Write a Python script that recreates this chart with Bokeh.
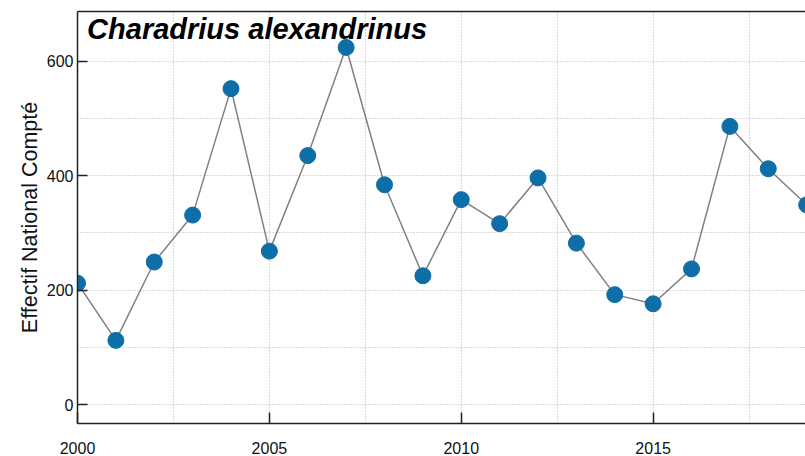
from bokeh.plotting import figure
from bokeh.models import Range1d, FixedTicker, LinearAxis, Label, Grid
from bokeh.embed import file_html
from bokeh.resources import INLINE

years = list(range(2000, 2020))
counts = [212, 112, 249, 331, 552, 268, 435, 624, 384, 225,
          358, 316, 396, 282, 192, 176, 237, 486, 412, 349]
species = "Charadrius alexandrinus"
y_label = "Effectif National Compté"
x_ticks = [2000, 2005, 2010, 2015]
x_minor = [2002.5, 2007.5, 2012.5, 2017.5]
y_ticks = [0, 200, 400, 600]
y_minor = [100, 300, 500]

FONT = "Liberation Sans"
AXIS_COLOR = "#222222"
GRID_COLOR = "#b5b5b5"

p = figure(width=805, height=456, output_backend="svg", toolbar_location=None,
           x_range=Range1d(2000, 2018.97), y_range=Range1d(-33.2, 686.8),
           x_axis_type=None, y_axis_type=None,
           min_border_left=77, min_border_right=0, min_border_top=11, min_border_bottom=33)
p.outline_line_color = None
p.background_fill_color = "white"
p.border_fill_color = "white"

xaxis = LinearAxis(ticker=FixedTicker(ticks=x_ticks, minor_ticks=x_minor))
yaxis = LinearAxis(ticker=FixedTicker(ticks=y_ticks, minor_ticks=y_minor))
for ax in (xaxis, yaxis):
    ax.axis_line_color = AXIS_COLOR
    ax.axis_line_width = 1.5
    ax.major_tick_line_color = AXIS_COLOR
    ax.major_tick_line_width = 1.5
    ax.major_tick_out = 0
    ax.minor_tick_line_color = None
    ax.major_label_text_font = FONT
    ax.major_label_text_font_size = "16px"
    ax.major_label_text_color = "#111111"
xaxis.major_tick_in = 11
xaxis.major_label_standoff = 14
yaxis.major_tick_in = 10
yaxis.major_label_standoff = 0
yaxis.axis_label = y_label
yaxis.axis_label_text_font = FONT
yaxis.axis_label_text_font_size = "21.5px"
yaxis.axis_label_text_font_style = "normal"
yaxis.axis_label_text_color = "#111111"
yaxis.axis_label_standoff = 2
p.add_layout(xaxis, "below")
p.add_layout(yaxis, "left")

top = LinearAxis(ticker=FixedTicker(ticks=[]))
top.axis_line_color = AXIS_COLOR
top.axis_line_width = 1.5
top.major_tick_line_color = None
top.minor_tick_line_color = None
top.major_label_text_font_size = "0px"
top.major_label_standoff = 0
p.add_layout(top, "above")

for dim, ax in ((0, xaxis), (1, yaxis)):
    g = Grid(dimension=dim, ticker=ax.ticker)
    g.grid_line_color = GRID_COLOR
    g.grid_line_dash = "1 2"
    g.grid_line_width = 1.2
    g.minor_grid_line_color = GRID_COLOR
    g.minor_grid_line_dash = "1 2"
    g.minor_grid_line_width = 1.2
    p.add_layout(g)

p.line(years, counts, line_color="#808080", line_width=1.5)
p.scatter(years, counts, size=16, fill_color="#0e6ea8", line_color="#0e6ea8")

p.add_layout(Label(x=2000.25, y=657, text=species, text_font=FONT,
                   text_font_size="29px", text_font_style="bold italic",
                   text_color="black", text_align="left", text_baseline="alphabetic"))

open("out.html", "w").write(file_html(p, INLINE))
